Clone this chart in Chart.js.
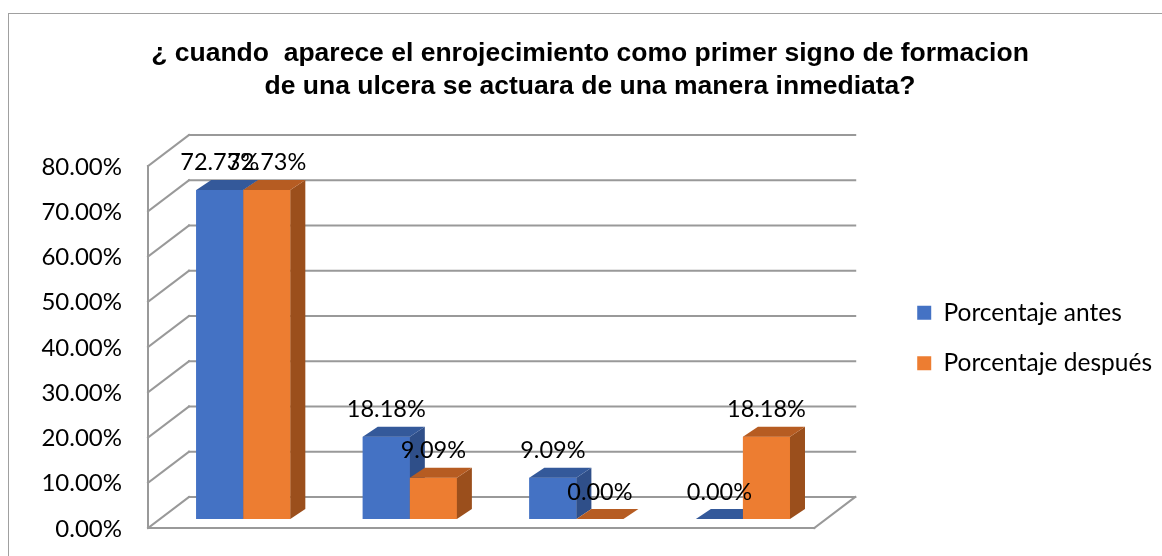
<!DOCTYPE html>
<html>
<head>
<meta charset="utf-8">
<script src="https://cdn.jsdelivr.net/npm/chart.js@4"></script>
<style>
    html, body { margin: 0; padding: 0; background: #ffffff; overflow: hidden; }
    #frame {
        position: absolute; left: 8px; top: 13px; width: 1300px; height: 700px;
        border-left: 1px solid #a0a0a0; border-top: 1px solid #a0a0a0;
    }
    #wrap { position: absolute; left: 0; top: 0; width: 1162px; height: 556px; }
</style>
</head>
<body>
<div id="frame"></div>
<div id="wrap"><canvas id="chart"></canvas></div>
<script>
// Chart data
const titleLines = [
    '¿ cuando  aparece el enrojecimiento como primer signo de formacion',
    'de una ulcera se actuara de una manera inmediata?'
];
const categories = ['1', '2', '3', '4'];
const seriesNames = ['Porcentaje antes', 'Porcentaje después'];
const antesValues = [72.73, 18.18, 9.09, 0.00];
const despuesValues = [72.73, 9.09, 0.00, 18.18];
const yTicks = [0, 10, 20, 30, 40, 50, 60, 70, 80];

// Look
const FONT = 'Lato';
const GRID = '#999999';
const faces = [
    { front: '#4472c4', top: '#34599a', side: '#2f4f89' },
    { front: '#ed7d31', top: '#b65c22', side: '#9b4f1c' }
];

// Perspective offsets relative to the plane the bars stand on
const BACK = { dx: 29, dy: -22 };
const FRONT = { dx: -12, dy: 9 };
const BAR_DEPTH = { dx: 15, dy: -10 };

function fmtPct(v) {
    return v.toFixed(2) + '%';
}

function line(ctx, x1, y1, x2, y2) {
    ctx.beginPath();
    ctx.moveTo(x1, y1);
    ctx.lineTo(x2, y2);
    ctx.stroke();
}

function poly(ctx, pts, color) {
    ctx.fillStyle = color;
    ctx.beginPath();
    ctx.moveTo(pts[0][0], pts[0][1]);
    pts.slice(1).forEach(p => ctx.lineTo(p[0], p[1]));
    ctx.closePath();
    ctx.fill();
}

/**
 * Draws the 3D walls, bar faces and value labels
 */
const depth3d = {
    id: 'depth3d',
    beforeDatasetsDraw(chart) {
        const { ctx, chartArea } = chart;
        const y = chart.scales.y;
        const left = chartArea.left;
        const right = chartArea.right;
        ctx.save();
        ctx.strokeStyle = GRID;
        ctx.lineWidth = 2;
        ctx.lineCap = 'square';
        yTicks.forEach(v => {
            const py = y.getPixelForValue(v);
            line(ctx, left + BACK.dx, py + BACK.dy, right + BACK.dx, py + BACK.dy);
            line(ctx, left + FRONT.dx, py + FRONT.dy, left + BACK.dx, py + BACK.dy);
        });
        const top = y.getPixelForValue(yTicks[yTicks.length - 1]);
        const base = y.getPixelForValue(0);
        // front edge of the side wall
        line(ctx, left + FRONT.dx, top + FRONT.dy, left + FRONT.dx, base + FRONT.dy);
        // floor
        line(ctx, left + FRONT.dx, base + FRONT.dy, right + FRONT.dx, base + FRONT.dy);
        line(ctx, right + FRONT.dx, base + FRONT.dy, right + BACK.dx, base + BACK.dy);
        ctx.restore();
    },
    afterDatasetsDraw(chart) {
        const { ctx } = chart;
        const dx = BAR_DEPTH.dx;
        const dy = BAR_DEPTH.dy;
        ctx.save();
        // series in order so the later one covers the side of the earlier one
        chart.data.datasets.forEach((ds, i) => {
            const colors = faces[i];
            chart.getDatasetMeta(i).data.forEach(bar => {
                const { x, y, width, base } = bar.getProps(['x', 'y', 'width', 'base'], true);
                const l = x - width / 2;
                const r = x + width / 2;
                if (base - y > 0.5) {
                    poly(ctx, [[l, y], [r, y], [r, base], [l, base]], colors.front);
                    poly(ctx, [[r, y], [r + dx, y + dy], [r + dx, base + dy], [r, base]], colors.side);
                }
                poly(ctx, [[l, y], [l + dx, y + dy], [r + dx, y + dy], [r, y]], colors.top);
            });
        });
        // value labels
        ctx.font = `23.5px ${FONT}`;
        ctx.fillStyle = '#000000';
        ctx.textAlign = 'center';
        ctx.textBaseline = 'middle';
        chart.data.datasets.forEach((ds, i) => {
            chart.getDatasetMeta(i).data.forEach((bar, j) => {
                const { x, y } = bar.getProps(['x', 'y'], true);
                ctx.fillText(fmtPct(ds.data[j]), x, y - 27);
            });
        });
        ctx.restore();
    }
};

const ctx = document.getElementById('chart').getContext('2d');
new Chart(ctx, {
    type: 'bar',
    data: {
        labels: categories,
        datasets: [
            {
                label: seriesNames[0],
                data: antesValues,
                backgroundColor: faces[0].front
            },
            {
                label: seriesNames[1],
                data: despuesValues,
                backgroundColor: faces[1].front
            }
        ]
    },
    options: {
        responsive: true,
        maintainAspectRatio: false,
        animation: false,
        layout: {
            padding: { left: 18, right: 0, top: 0, bottom: 37 }
        },
        datasets: {
            bar: {
                categoryPercentage: 0.565,
                barPercentage: 1.0
            }
        },
        plugins: {
            title: {
                display: true,
                text: titleLines,
                color: '#000000',
                font: { family: 'Liberation Sans', size: 26.5, weight: 'bold', lineHeight: 1.245 },
                padding: { top: 37, bottom: 54 }
            },
            legend: {
                display: true,
                position: 'right',
                align: 'center',
                fullSize: false,
                maxWidth: 290,
                labels: {
                    boxWidth: 14,
                    boxHeight: 14,
                    padding: 26,
                    color: '#000000',
                    font: { family: FONT, size: 24.5 }
                }
            },
            tooltip: { enabled: false }
        },
        scales: {
            x: {
                display: false
            },
            y: {
                min: 0,
                max: 80,
                afterBuildTicks: scale => {
                    scale.ticks = yTicks.map(v => ({ value: v }));
                },
                afterFit: scale => {
                    scale.width = 142;
                    scale.paddingTop = 0;
                    scale.paddingBottom = 0;
                },
                grid: { display: false, drawTicks: false },
                border: { display: false },
                ticks: {
                    padding: 38,
                    labelOffset: 10,
                    color: '#000000',
                    font: { family: FONT, size: 24 },
                    callback: v => fmtPct(v)
                }
            },
            y2: {
                type: 'linear',
                position: 'right',
                display: true,
                grid: { display: false, drawTicks: false },
                border: { display: false },
                ticks: { display: false },
                afterFit: scale => { scale.width = 65; }
            }
        }
    },
    plugins: [depth3d]
});
</script>
</body>
</html>
